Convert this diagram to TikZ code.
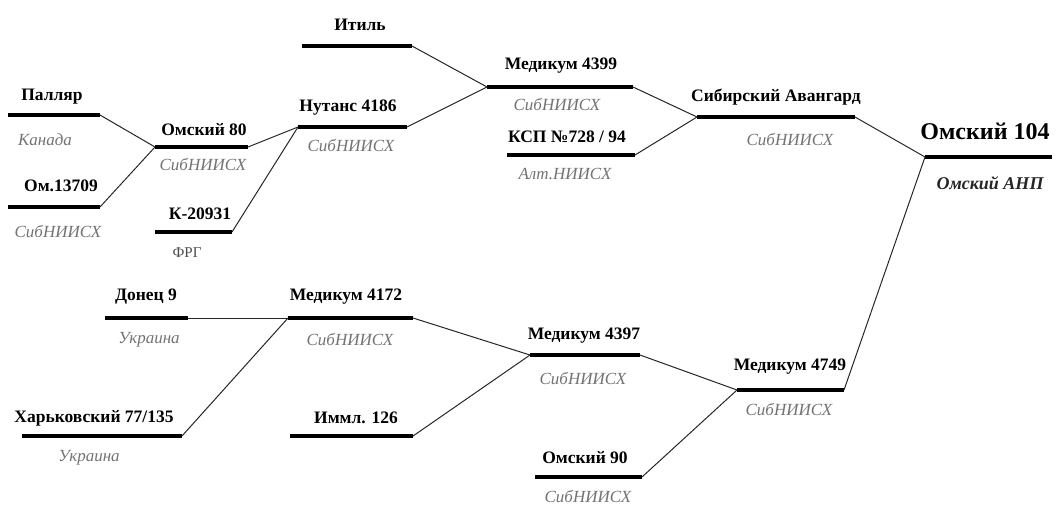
\documentclass[tikz,border=0pt]{standalone}
\usepackage{fontspec}
\setmainfont{Liberation Serif}
\definecolor{subgray}{gray}{0.45}
\tikzset{
  bar/.style={line width=3.4pt, black},
  conn/.style={line width=1pt, black!85},
  lab/.style={inner sep=0pt, font=\fontsize{17.5}{20}\selectfont\bfseries},
  biglab/.style={inner sep=0pt, font=\fontsize{24}{28}\selectfont\bfseries},
  sub/.style={inner sep=0pt, text=subgray, font=\fontsize{17}{20}\selectfont\itshape},
  bigsub/.style={inner sep=0pt, text=black!85, font=\fontsize{18}{21}\selectfont\bfseries\itshape},
  plainsub/.style={inner sep=0pt, text=black!70, font=\fontsize{15}{18}\selectfont},
}
\begin{document}
\begin{tikzpicture}[x=1pt,y=-1pt]
\useasboundingbox (0,0) rectangle (1056,506);
% bar end points
\coordinate (palL) at (8,115);   \coordinate (palR) at (100,115);
\coordinate (omaL) at (8,207);   \coordinate (omaR) at (100,207);
\coordinate (o80L) at (155,147); \coordinate (o80R) at (248,147);
\coordinate (kL) at (155,232);   \coordinate (kR) at (232,232);
\coordinate (nuL) at (298,127);  \coordinate (nuR) at (407,127);
\coordinate (itL) at (302,46);   \coordinate (itR) at (412,46);
\coordinate (m99L) at (487,87);  \coordinate (m99R) at (633,87);
\coordinate (ksL) at (507,155);  \coordinate (ksR) at (635,155);
\coordinate (saL) at (697,117);  \coordinate (saR) at (855,117);
\coordinate (o104L) at (925,157);\coordinate (o104R) at (1052,157);
\coordinate (doL) at (105,318);  \coordinate (doR) at (188,318);
\coordinate (m72L) at (288,318); \coordinate (m72R) at (413,318);
\coordinate (khL) at (22,436);   \coordinate (khR) at (182,436);
\coordinate (imL) at (290,436);  \coordinate (imR) at (413,436);
\coordinate (m97L) at (530,355); \coordinate (m97R) at (640,355);
\coordinate (o90L) at (535,477); \coordinate (o90R) at (642,477);
\coordinate (m49L) at (737,390); \coordinate (m49R) at (844,390);
% bars
\foreach \a/\b in {palL/palR,omaL/omaR,o80L/o80R,kL/kR,nuL/nuR,itL/itR,m99L/m99R,ksL/ksR,saL/saR,o104L/o104R,doL/doR,m72L/m72R,khL/khR,imL/imR,m97L/m97R,o90L/o90R,m49L/m49R}
  \draw[bar] (\a) -- (\b);
% connectors
\draw[conn] (palR) -- (o80L);
\draw[conn] (omaR) -- (o80L);
\draw[conn] (o80R) -- (nuL);
\draw[conn] (kR) -- (nuL);
\draw[conn] (nuR) -- (m99L);
\draw[conn] (itR) -- (m99L);
\draw[conn] (m99R) -- (saL);
\draw[conn] (ksR) -- (saL);
\draw[conn] (saR) -- (o104L);
\draw[conn] (m49R) -- (o104L);
\draw[conn] (doR) -- (m72L);
\draw[conn] (khR) -- (m72L);
\draw[conn] (m72R) -- (m97L);
\draw[conn] (imR) -- (m97L);
\draw[conn] (m97R) -- (m49L);
\draw[conn] (o90R) -- (m49L);
% labels
\node[lab] (tpal) at (52,97) {Палляр};
\node[sub] (spal) at (45,140) {Канада};
\node[lab] (toma) at (61,186) {Ом.13709};
\node[sub] (soma) at (58,232) {СибНИИСХ};
\node[lab] (to80) at (204,130) {Омский 80};
\node[sub] (so80) at (203,165) {СибНИИСХ};
\node[lab] (tk) at (200,214) {К-20931};
\node[plainsub] (sk) at (187,253) {ФРГ};
\node[lab] (tnu) at (348,108) {Нутанс 4186};
\node[sub] (snu) at (351,146) {СибНИИСХ};
\node[lab] (tit) at (360,25) {Итиль};
\node[lab] (tm99) at (561,66) {Медикум 4399};
\node[sub] (sm99) at (557,105) {СибНИИСХ};
\node[lab] (tks) at (567,137) {КСП №728 / 94};
\node[sub] (sks) at (565,174) {Алт.НИИСХ};
\node[lab] (tsa) at (776,97) {Сибирский Авангард};
\node[sub] (ssa) at (790,140) {СибНИИСХ};
\node[biglab] (to104) at (985,131) {Омский 104};
\node[bigsub] (so104) at (990,183) {Омский АНП};
\node[lab] (tdo) at (146,297) {Донец 9};
\node[sub] (sdo) at (149,340) {Украина};
\node[lab] (tm72) at (346,297) {Медикум 4172};
\node[sub] (sm72) at (350,340) {СибНИИСХ};
\node[lab] (tkh) at (94,418) {Харьковский 77/135};
\node[sub] (skh) at (89,458) {Украина};
\node[lab] (tim) at (356,418) {Иммл. 126};
\node[lab] (tm97) at (584,336) {Медикум 4397};
\node[sub] (sm97) at (583,379) {СибНИИСХ};
\node[lab] (to90) at (585,458) {Омский 90};
\node[sub] (so90) at (588,497) {СибНИИСХ};
\node[lab] (tm49) at (790,367) {Медикум 4749};
\node[sub] (sm49) at (789,410) {СибНИИСХ};
\end{tikzpicture}
\end{document}
